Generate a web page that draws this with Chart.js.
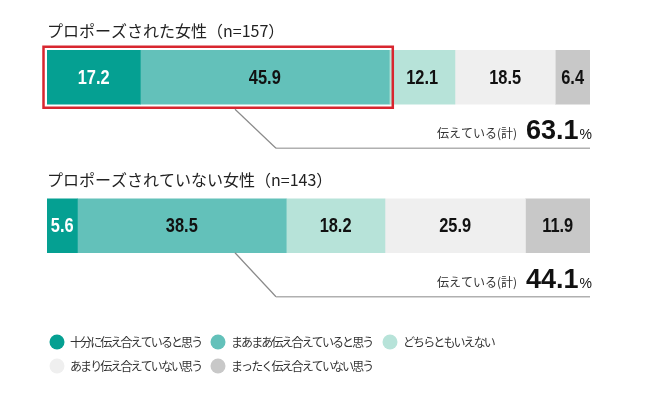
<!DOCTYPE html>
<html>
<head>
<meta charset="utf-8">
<script src="https://cdn.jsdelivr.net/npm/chart.js@4"></script>
<style>
  html, body { margin: 0; padding: 0; background: #fff; }
  canvas { display: block; }
</style>
</head>
<body>
<canvas id="chart" width="650" height="399"></canvas>
<script>
// groups (one bar each)
var groups = ['プロポーズされた女性（n=157）', 'プロポーズされていない女性（n=143）'];

// answer series, left to right
var seriesNames = [
    '十分に伝え合えていると思う',
    'まあまあ伝え合えていると思う',
    'どちらともいえない',
    'あまり伝え合えていない思う',
    'まったく伝え合えていない思う'
];
var fully    = [17.2, 5.6];
var mostly   = [45.9, 38.5];
var neither  = [12.1, 18.2];
var notMuch  = [18.5, 25.9];
var notAtAll = [6.4, 11.9];

var totalLabel = '伝えている(計)';

var colors = ['#05a092', '#63c1ba', '#b7e3d9', '#efefef', '#c8c8c8'];
var labelColors = ['#ffffff', '#111111', '#111111', '#111111', '#111111'];

var JP = '"Noto Sans CJK JP", "Noto Sans", sans-serif';
var NUM = '"Liberation Sans", Arial, sans-serif';

var values = [fully, mostly, neither, notMuch, notAtAll];

var datasets = values.map(function (v, i) {
    return {
        label: seriesNames[i],
        data: v,
        backgroundColor: colors[i],
        borderWidth: 0,
        barThickness: 54
    };
});

// text squeezed horizontally, the original uses a condensed face
function squeezed(ctx, text, x, y, sx) {
    ctx.save();
    ctx.translate(x, y);
    ctx.scale(sx, 1);
    ctx.fillText(text, 0, 0);
    ctx.restore();
}

var decor = {
    id: 'decor',
    afterDatasetsDraw: function (chart) {
        var ctx = chart.ctx;
        var metas = chart.data.datasets.map(function (d, i) { return chart.getDatasetMeta(i); });

        // segment values
        ctx.save();
        ctx.textAlign = 'center';
        ctx.textBaseline = 'middle';
        ctx.font = 'bold 20px ' + NUM;
        metas.forEach(function (meta, i) {
            meta.data.forEach(function (bar, j) {
                ctx.fillStyle = labelColors[i];
                squeezed(ctx, values[i][j].toFixed(1), (bar.x + bar.base) / 2, bar.y + 1, 0.82);
            });
        });
        ctx.restore();

        groups.forEach(function (g, j) {
            var first = metas[0].data[j];
            var second = metas[1].data[j];
            var last = metas[metas.length - 1].data[j];
            var top = first.y - first.height / 2;
            var bottom = first.y + first.height / 2;
            var left = first.base;
            var right = last.x;

            // group title
            ctx.save();
            ctx.fillStyle = '#222';
            ctx.font = '16px ' + JP;
            ctx.textBaseline = 'middle';
            ctx.textAlign = 'left';
            ctx.fillText(g, left, top - 19);
            ctx.restore();

            // red frame on first group
            var hasBox = j === 0;
            if (hasBox) {
                ctx.save();
                ctx.strokeStyle = '#d8262f';
                ctx.lineWidth = 2.5;
                ctx.strokeRect(left - 3.5, top - 3.5, second.x - left + 7, bottom - top + 7);
                ctx.restore();
            }

            // leader line
            var lineY = bottom + 44;
            ctx.save();
            ctx.strokeStyle = '#8a8a8a';
            ctx.lineWidth = 1.2;
            ctx.beginPath();
            ctx.moveTo(235, bottom + (hasBox ? 5 : 0));
            ctx.lineTo(276, lineY);
            ctx.stroke();
            ctx.strokeStyle = '#b0b0b0';
            ctx.lineWidth = 1.6;
            ctx.beginPath();
            ctx.moveTo(276, lineY);
            ctx.lineTo(right, lineY);
            ctx.stroke();
            ctx.restore();

            // total of the two positive answers
            var total = (fully[j] + mostly[j]).toFixed(1);
            var base = bottom + 35;
            ctx.save();
            ctx.textBaseline = 'alphabetic';
            ctx.textAlign = 'right';
            ctx.fillStyle = '#111';
            ctx.font = '14px ' + NUM;
            ctx.fillText('%', right + 2, base);
            var pw = ctx.measureText('%').width;
            ctx.font = 'bold 27px ' + NUM;
            ctx.fillText(total, right + 1 - pw, base);
            var tw = ctx.measureText(total).width;
            ctx.fillStyle = '#333';
            ctx.font = '12px ' + JP;
            ctx.fillText(totalLabel, right - pw - tw - 8, base - 1);
            ctx.restore();
        });

        // legend
        var cols = [57, 218, 390];
        var rows = [342, 366];
        ctx.save();
        ctx.font = '12px ' + JP;
        ctx.letterSpacing = '-1.9px';
        ctx.textBaseline = 'middle';
        ctx.textAlign = 'left';
        seriesNames.forEach(function (name, i) {
            var cx = cols[i % 3];
            var cy = rows[Math.floor(i / 3)];
            ctx.fillStyle = colors[i];
            ctx.beginPath();
            ctx.arc(cx, cy, 7.5, 0, Math.PI * 2);
            ctx.fill();
            ctx.fillStyle = '#333';
            ctx.fillText(name, cx + 13, cy);
        });
        ctx.restore();
    }
};

new Chart(document.getElementById('chart'), {
    type: 'bar',
    data: {
        labels: groups,
        datasets: datasets
    },
    options: {
        indexAxis: 'y',
        responsive: false,
        animation: false,
        devicePixelRatio: 1,
        layout: { padding: { left: 47, right: 60, top: 3, bottom: 99 } },
        scales: {
            x: { stacked: true, min: 0, max: 100.1, display: false },
            y: { stacked: true, display: false }
        },
        plugins: {
            legend: { display: false },
            tooltip: { enabled: false }
        }
    },
    plugins: [decor]
});
</script>
</body>
</html>
